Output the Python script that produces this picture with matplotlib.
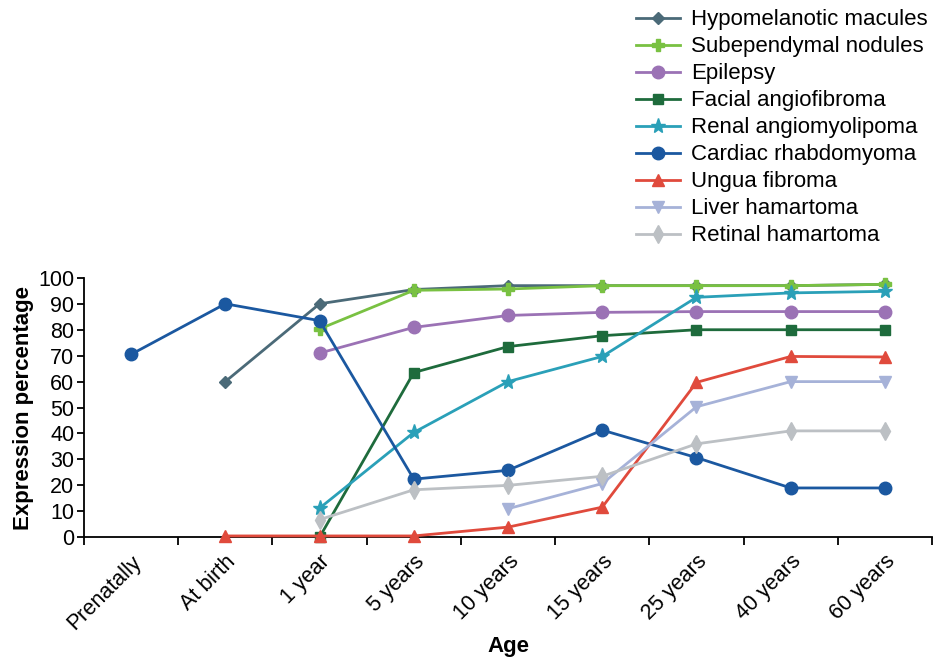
import matplotlib
matplotlib.use("Agg")
import matplotlib.pyplot as plt
import numpy as np

plt.rcParams['font.family'] = ['Liberation Sans', 'DejaVu Sans']

# Categorias del eje x
edades = ["Prenatally", "At birth", "1 year", "5 years", "10 years",
          "15 years", "25 years", "40 years", "60 years"]

# Valores por manifestacion (None = sin dato)
hipomelanoticas = [None, 60, 90, 95.5, 97, 97, 97, 97, 97.5]
subependimarios = [None, None, 80.3, 95.2, 95.7, 97, 97, 97, 97.5]
epilepsia = [None, None, 71, 80.9, 85.5, 86.7, 87, 87, 87]
angiofibroma = [None, None, 0, 63.5, 73.5, 77.7, 80, 80, 80]
angiomiolipoma = [None, None, 11.2, 40.4, 60, 69.7, 92.5, 94.2, 94.8]
rabdomioma = [70.5, 90, 83.5, 22.4, 25.8, 41.3, 30.7, 19, 19]
fibroma_ungueal = [None, 0.5, 0.5, 0.5, 3.9, 11.6, 59.7, 69.7, 69.5]
hamartoma_higado = [None, None, None, None, 11, 20.7, 50.3, 60, 60]
hamartoma_retina = [None, None, 6.8, 18.3, 20, 23.5, 36, 41, 41]

series = [
    ("Hypomelanotic macules", hipomelanoticas, "#4b6a78", "D", 6),
    ("Subependymal nodules", subependimarios, "#79c142", "P", 8),
    ("Epilepsy", epilepsia, "#9b72b5", "o", 9),
    ("Facial angiofibroma", angiofibroma, "#1e6b3c", "s", 7),
    ("Renal angiomyolipoma", angiomiolipoma, "#2aa0b8", "*", 11),
    ("Cardiac rhabdomyoma", rabdomioma, "#1b58a0", "o", 9),
    ("Ungua fibroma", fibroma_ungueal, "#e04a3c", "^", 8),
    ("Liver hamartoma", hamartoma_higado, "#a6b2d8", "v", 8),
    ("Retinal hamartoma", hamartoma_retina, "#bcc0c4", "d", 9),
]

fig = plt.figure(figsize=(9.33, 6.6), dpi=100)
ax = fig.add_axes([0.090, 0.186, 0.909, 0.393])

x = np.arange(len(edades))
for nombre, valores, color, marcador, tam in series:
    y = np.array([np.nan if v is None else v for v in valores], dtype=float)
    ax.plot(x, y, color=color, marker=marcador, markersize=tam, linewidth=2,
            label=nombre, clip_on=False, zorder=3)

ax.set_xlim(-0.5, len(edades) - 0.5)
ax.set_ylim(0, 100)
ax.set_yticks(range(0, 101, 10))

# Marcas entre categorias, etiquetas centradas
ax.set_xticks(np.arange(-0.5, len(edades), 1.0))
ax.set_xticklabels([])
ax.set_xticks(x, minor=True)
ax.set_xticklabels(edades, minor=True, rotation=45, ha='right',
                   rotation_mode='anchor', fontsize=15.5)
ax.tick_params(axis='x', which='minor', length=0, pad=10)
ax.tick_params(axis='x', which='major', length=6, width=1.3, direction='out')
ax.tick_params(axis='y', length=5, width=1.3, labelsize=15.5, pad=2)

for lado in ['top', 'right']:
    ax.spines[lado].set_visible(False)
for lado in ['left', 'bottom']:
    ax.spines[lado].set_linewidth(1.3)

ax.set_ylabel("Expression percentage", fontsize=16, fontweight='bold', labelpad=3)
ax.set_xlabel("Age", fontsize=16, fontweight='bold', labelpad=2)

fig.legend(loc='upper right', bbox_to_anchor=(1.009, 1.006), frameon=False,
           fontsize=16, handlelength=2.0, handletextpad=0.5, labelspacing=0.27,
           borderaxespad=0.2)

fig.savefig("out.png", dpi=100)
